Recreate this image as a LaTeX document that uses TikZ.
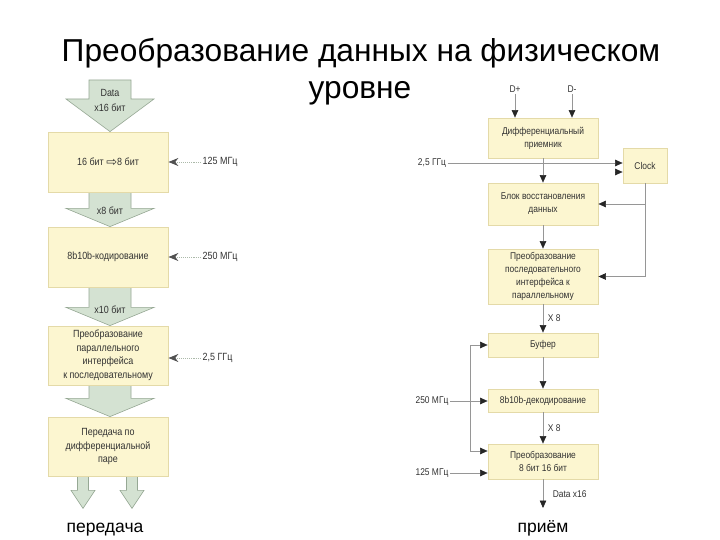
\documentclass[tikz,border=0pt]{standalone}
\usepackage{fontspec}
\setmainfont{Liberation Sans}
\newfontfamily\cond[FakeStretch=0.86]{Liberation Sans}
\newfontfamily\dejavu{DejaVu Sans}
\usetikzlibrary{arrows.meta,calc}
\definecolor{boxfill}{RGB}{252,246,208}
\definecolor{boxline}{RGB}{228,218,168}
\definecolor{arrfill}{RGB}{212,226,210}
\definecolor{arrline}{RGB}{150,168,148}
\definecolor{txt}{RGB}{50,50,50}
\definecolor{wire}{RGB}{150,150,150}
\begin{document}
\begin{tikzpicture}[x=1pt,y=-1pt,
  box/.style={draw=boxline,fill=boxfill,line width=0.8pt,inner sep=0pt,align=center,
    font=\cond\fontsize{10.4}{13.5}\selectfont,text=txt},
  ghost/.style={draw=none,fill=none,text opacity=0},
  lbl/.style={inner sep=1.5pt,font=\cond\fontsize{10.4}{11}\selectfont,text=txt},
  rlbl/.style={inner sep=1.5pt,font=\cond\fontsize{9.8}{11}\selectfont,text=txt},
  fat/.style={fill=arrfill,draw=arrline,line width=0.6pt,line join=miter},
  clk/.style={draw=arrline!80,densely dotted,line width=0.9pt,
    -{Stealth[length=10pt,width=8pt,color=txt!85,fill=txt!85]}},
  wire/.style={draw=wire,line width=0.6pt},
  arr/.style={wire,-{Triangle[length=7.5pt,width=6.5pt,color=black!85,fill=black!85]}},
  big/.style={inner sep=0pt,font=\fontsize{17.5}{20}\selectfont},
]
\useasboundingbox[fill=white] (0,0) rectangle (720,540);

% ---------- title
\node[anchor=base,inner sep=0pt,font=\fontsize{31.7}{36}\selectfont] (t1) at (361,62) {Преобразование данных на физическом};
\node[anchor=base,inner sep=0pt,font=\fontsize{31.7}{36}\selectfont] (t2) at (360,99) {уровне};

% ---------- left column (transmit)
\coordinate (din) at (110,80);
\newcommand\fatarrow[3]{% top, head-start offset, tip
  \path[fat] ($(#1)+(-21,0)$) -- ($(#1)+(-21,#2)$) -- ($(#1)+(-44,#2)$) -- (#3)
     -- ($(#1)+(44,#2)$) -- ($(#1)+(21,#2)$) -- ($(#1)+(21,0)$) -- cycle;}
\newcommand\smallarrow[3]{%
  \path[fat] ($(#1)+(-5.5,0)$) -- ($(#1)+(-5.5,#2)$) -- ($(#1)+(-12,#2)$) -- (#3)
     -- ($(#1)+(12,#2)$) -- ($(#1)+(5.5,#2)$) -- ($(#1)+(5.5,0)$) -- cycle;}

\node[box,ghost,minimum width=120pt,minimum height=60pt] (b1) at (108,162) {};
\node[box,ghost,minimum width=120pt,minimum height=60pt] (b2) at (108,257) {};
\node[box,ghost,minimum width=120pt,minimum height=59pt] (b3) at (108,355.5) {};
\node[box,ghost,minimum width=120pt,minimum height=59pt] (b4) at (108,446.5) {};

\fatarrow{din}{19}{$(b1.north)+(2,0)$}
\fatarrow{$(b1.south)+(2,0)$}{16}{$(b2.north)+(2,0)$}
\fatarrow{$(b2.south)+(2,0)$}{20}{$(b3.north)+(2,0)$}
\fatarrow{$(b3.south)+(2,0)$}{13}{$(b4.north)+(2,0)$}
\coordinate (o1) at ($(b4.south)+(-25,0)$);
\coordinate (o2) at ($(b4.south)+(24,0)$);
\smallarrow{o1}{14}{$(o1)+(0,32)$}
\smallarrow{o2}{14}{$(o2)+(0,32)$}

% boxes on top of arrows
\node[box,minimum width=120pt,minimum height=60pt] (bb1) at (b1) {16 бит {\dejavu\fontsize{13}{13}\selectfont\raisebox{-0.5pt}{⇨}}8 бит};
\node[box,minimum width=120pt,minimum height=60pt] (bb2) at (b2) {8b10b-кодирование};
\node[box,minimum width=120pt,minimum height=59pt] (bb3) at (b3) {Преобразование\\параллельного\\интерфейса\\к последовательному};
\node[box,minimum width=120pt,minimum height=59pt] (bb4) at (b4) {Передача по\\дифференциальной\\паре};

% arrow texts
\node[lbl,align=center,font=\cond\fontsize{10.4}{15}\selectfont] (a0) at (110,100) {Data\\x16 бит};
\node[lbl] (a1) at (110,211) {x8 бит};
\node[lbl] (a2) at (110,310) {x10 бит};

% clocks
\node[lbl,anchor=west] (f1) at (201,162) {125 МГц};
\node[lbl,anchor=west] (f2) at (201,257) {250 МГц};
\node[lbl,anchor=west] (f3) at (201,358) {2,5 ГГц};
\draw[clk] (f1.west) -- (bb1.east |- f1.west);
\draw[clk] (f2.west) -- (bb2.east |- f2.west);
\draw[clk] (f3.west) -- (bb3.east |- f3.west);

\node[big,anchor=base] (tx) at (105,532) {передача};

% ---------- right column (receive)
\tikzset{rbox/.style={box,font=\cond\fontsize{9.8}{13}\selectfont,minimum width=110pt}}
\node[rbox,minimum height=40pt] (r1) at (543,138) {Дифференциальный\\приемник};
\node[rbox,minimum width=44pt,minimum height=35pt] (ck) at (645,165.5) {Clock};
\node[rbox,minimum height=42pt] (r2) at (543,204) {Блок восстановления\\данных};
\node[rbox,minimum height=55pt] (r3) at (543,276.5) {Преобразование\\последовательного\\интерфейса к\\параллельному};
\node[rbox,minimum height=24pt] (r4) at (543,345) {Буфер};
\node[rbox,minimum height=23pt] (r5) at (543,400.5) {8b10b-декодирование};
\node[rbox,minimum height=35pt] (r6) at (543,461.5) {Преобразование\\8 бит 16 бит};

\node[rlbl] (dp) at (515,89) {D+};
\node[rlbl] (dm) at (572,89) {D-};
\draw[arr] (dp.south) -- (r1.north -| dp.south);
\draw[arr] (dm.south) -- (r1.north -| dm.south);

\node[rlbl] (g25) at (432,163) {2,5 ГГц};
\draw[arr] (g25.east) -- (ck.west |- g25.east);
\coordinate (ck2) at (615,172);
\draw[arr] (ck2) -- (ck.west |- ck2);

\draw[arr] (r1.south) -- (r2.north);
\draw[wire] (ck.south) -- (ck.south |- r3.east);
\draw[arr] (ck.south |- r2.east) -- (r2.east);
\draw[arr] (ck.south |- r3.east) -- (r3.east);
\draw[arr] (r2.south) -- (r3.north);
\draw[arr] (r3.south) -- node[rlbl,right=3pt] (x81) {X 8} (r4.north);
\draw[arr] (r4.south) -- (r5.north);
\draw[arr] (r5.south) -- node[rlbl,right=3pt] (x82) {X 8} (r6.north);

\coordinate (jt) at (470,345);
\coordinate (jb) at (470,451);
\draw[wire] (jt) -- (jb);
\draw[arr] (jt) -- (r4.west);
\draw[arr] (jb) -- (r6.west |- jb);

\node[rlbl] (g250) at (432,401) {250 МГц};
\draw[arr] (g250.east) -- (r5.west |- g250.east);
\node[rlbl] (g125) at (432,473) {125 МГц};
\draw[arr] (g125.east) -- (r6.west |- g125.east);

\coordinate (dout) at (543,508);
\draw[arr] (r6.south) -- node[rlbl,right=8pt] (d16) {Data x16} (dout);

\node[big,anchor=base] (rx) at (543,532) {приём};
\end{tikzpicture}
\end{document}
